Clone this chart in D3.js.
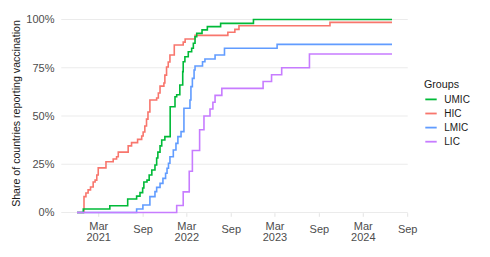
<!DOCTYPE html>
<html>
<head>
<meta charset="utf-8">
<script src="https://cdn.jsdelivr.net/npm/d3@7"></script>
<style>
	body { margin: 0; background: #fff; }
	svg { display: block; font-family: "Liberation Sans", Arial, sans-serif; }
	.grid line { stroke: #ebebeb; stroke-width: 1; }
	.tick-mark { stroke: #e3e3e3; stroke-width: 1; }
	.axis-label { fill: #4d4d4d; font-size: 11px; }
	.axis-title { fill: #1a1a1a; font-size: 10.6px; }
	.legend-title { fill: #1a1a1a; font-size: 10.7px; }
	.legend-label { fill: #1a1a1a; font-size: 10px; }
</style>
</head>
<body>
<svg id="viz-vax" width="490" height="257"></svg>
<script>

// Groups, in legend order, and their colours.
var groups = [ 'UMIC', 'HIC', 'LMIC', 'LIC' ];
var groupColors = [ '#00BA38', '#F8766D', '#619CFF', '#C77CFF' ];

// Cumulative share (%) of countries reporting vaccination, as [date, share] steps.
var umicSteps = [
	[ '2020-12-01', 0 ], [ '2020-12-27', 1.8 ], [ '2021-04-16', 3.5 ], [ '2021-06-29', 7.0 ],
	[ '2021-08-05', 8.5 ], [ '2021-08-19', 10.3 ], [ '2021-08-30', 12.7 ], [ '2021-09-04', 15.8 ],
	[ '2021-09-17', 16.8 ], [ '2021-09-26', 19.4 ], [ '2021-10-07', 22.0 ], [ '2021-10-20', 24.6 ],
	[ '2021-10-27', 28.2 ], [ '2021-11-01', 31.3 ], [ '2021-11-10', 34.5 ], [ '2021-11-17', 37.6 ],
	[ '2021-11-30', 39.3 ], [ '2021-12-22', 54.8 ], [ '2022-01-11', 60.0 ], [ '2022-01-18', 61.0 ],
	[ '2022-01-31', 66.1 ], [ '2022-02-12', 73.0 ], [ '2022-02-14', 78.1 ], [ '2022-02-21', 80.7 ],
	[ '2022-03-07', 83.3 ], [ '2022-03-21', 85.1 ], [ '2022-03-28', 87.7 ], [ '2022-04-04', 91.1 ],
	[ '2022-04-11', 92.8 ], [ '2022-05-03', 94.6 ], [ '2022-05-25', 96.3 ], [ '2022-07-19', 98.0 ],
	[ '2022-12-02', 100 ], [ '2024-06-28', 100 ]
];

var hicSteps = [
	[ '2020-12-01', 0 ], [ '2020-12-30', 8.2 ], [ '2021-01-07', 10.1 ], [ '2021-01-16', 11.7 ],
	[ '2021-01-26', 13.2 ], [ '2021-02-06', 15.8 ], [ '2021-02-14', 16.8 ], [ '2021-02-21', 19.4 ],
	[ '2021-02-27', 23.1 ], [ '2021-03-31', 26.3 ], [ '2021-04-30', 27.7 ], [ '2021-05-14', 28.9 ],
	[ '2021-05-21', 31.3 ], [ '2021-07-01', 34.5 ], [ '2021-07-15', 36.2 ], [ '2021-08-09', 37.9 ],
	[ '2021-08-26', 39.6 ], [ '2021-09-01', 41.7 ], [ '2021-09-08', 44.8 ], [ '2021-09-15', 48.4 ],
	[ '2021-09-21', 52.1 ], [ '2021-09-29', 58.3 ], [ '2021-10-27', 59.3 ], [ '2021-11-03', 61.9 ],
	[ '2021-11-10', 65.5 ], [ '2021-11-26', 67.1 ], [ '2021-11-30', 71.2 ], [ '2021-12-07', 75.4 ],
	[ '2021-12-14', 78.0 ], [ '2021-12-21', 81.6 ], [ '2022-01-08', 86.8 ], [ '2022-02-14', 88.3 ],
	[ '2022-02-22', 89.9 ], [ '2022-04-04', 91.8 ], [ '2022-08-18', 93.4 ], [ '2022-09-16', 94.9 ],
	[ '2022-10-03', 96.8 ], [ '2023-10-15', 98.5 ], [ '2024-06-28', 98.5 ]
];

var lmicSteps = [
	[ '2020-12-01', 0 ], [ '2021-08-05', 1.8 ], [ '2021-08-31', 3.9 ], [ '2021-09-29', 8.2 ],
	[ '2021-10-20', 10.8 ], [ '2021-10-27', 13.0 ], [ '2021-11-10', 15.1 ], [ '2021-11-22', 17.7 ],
	[ '2021-12-03', 20.3 ], [ '2021-12-09', 22.9 ], [ '2021-12-15', 25.5 ], [ '2021-12-21', 28.9 ],
	[ '2022-01-04', 32.4 ], [ '2022-01-15', 35.8 ], [ '2022-01-23', 39.3 ], [ '2022-02-05', 41.9 ],
	[ '2022-02-17', 54.0 ], [ '2022-03-14', 58.3 ], [ '2022-03-18', 65.2 ], [ '2022-03-24', 69.5 ],
	[ '2022-03-31', 73.8 ], [ '2022-04-04', 75.9 ], [ '2022-05-05', 78.1 ], [ '2022-05-15', 79.5 ],
	[ '2022-06-26', 81.6 ], [ '2022-08-04', 85.1 ], [ '2023-03-10', 87.1 ], [ '2024-06-28', 87.1 ]
];

var licSteps = [
	[ '2020-12-01', 0 ], [ '2022-01-18', 3.6 ], [ '2022-02-14', 10.7 ], [ '2022-03-11', 21.4 ],
	[ '2022-03-24', 32.1 ], [ '2022-04-23', 42.9 ], [ '2022-05-11', 50.0 ], [ '2022-06-05', 53.6 ],
	[ '2022-06-17', 57.1 ], [ '2022-06-26', 60.7 ], [ '2022-07-24', 64.3 ], [ '2023-01-11', 67.9 ],
	[ '2023-02-15', 71.4 ], [ '2023-03-29', 75.0 ], [ '2023-07-22', 82.1 ], [ '2024-06-28', 82.1 ]
];

// Axis ticks.
var yTicks = [ 0, 25, 50, 75, 100 ];
var xTickDates = [ '2021-03-01', '2021-09-01', '2022-03-01', '2022-09-01', '2023-03-01', '2023-09-01', '2024-03-01', '2024-09-01' ];
var xTickLabels = [ [ 'Mar', '2021' ], [ 'Sep' ], [ 'Mar', '2022' ], [ 'Sep' ], [ 'Mar', '2023' ], [ 'Sep' ], [ 'Mar', '2024' ], [ 'Sep' ] ];


window.vaxViz = {

	/**
	 * @private
	 * Panel edges, in pixels.
	 */
	_panel: {
		left: 61.25,
		right: 407.75,
		top: 19.5,
		bottom: 212.5
	},

	_parse: d3.timeParse( '%Y-%m-%d' ),

	/**
	 * @private
	 * Build the scales. The x domain gets ggplot's 5% padding on each side.
	 */
	_setScales: function () {

		var allDates = [].concat( umicSteps, hicSteps, lmicSteps, licSteps ).map( function ( d ) {
			return this._parse( d[0] );
		}.bind( this ) );

		var extent = d3.extent( allDates );
		var pad = ( extent[1] - extent[0] ) * 0.05;

		this._x = d3.scaleTime()
			.domain( [ new Date( +extent[0] - pad ), new Date( +extent[1] + pad ) ] )
			.range( [ this._panel.left, this._panel.right ] );

		this._y = d3.scaleLinear()
			.domain( [ 0, 100 ] )
			.range( [ this._panel.bottom, this._panel.top ] );

	},

	/**
	 * @private
	 * Horizontal gridlines, y labels and the axis title.
	 */
	_drawYAxis: function () {

		var y = this._y;

		var grid = this._svg.append( 'g' ).classed( 'grid', true );

		grid.selectAll( 'line' )
			.data( yTicks )
			.enter()
			.append( 'line' )
			.attr( 'x1', this._panel.left )
			.attr( 'x2', this._panel.right )
			.attr( 'y1', function ( d ) { return y( d ); } )
			.attr( 'y2', function ( d ) { return y( d ); } );

		this._svg.append( 'g' ).selectAll( 'text' )
			.data( yTicks )
			.enter()
			.append( 'text' )
			.classed( 'axis-label', true )
			.attr( 'x', 54.5 )
			.attr( 'y', function ( d ) { return y( d ) + 3.9; } )
			.attr( 'text-anchor', 'end' )
			.text( function ( d ) { return d + '%'; } );

		this._svg.append( 'text' )
			.classed( 'axis-title', true )
			.attr( 'transform', 'translate(20.3,113.5) rotate(-90)' )
			.attr( 'text-anchor', 'middle' )
			.text( 'Share of countries reporting vaccination' );

	},

	/**
	 * @private
	 * Tick marks and two-line date labels under the panel.
	 */
	_drawXAxis: function () {

		var x = this._x;
		var parse = this._parse;

		var ticks = this._svg.append( 'g' ).selectAll( 'g' )
			.data( xTickDates )
			.enter()
			.append( 'g' )
			.attr( 'transform', function ( d ) {
				return 'translate(' + x( parse( d ) ) + ',0)';
			} );

		ticks.append( 'line' )
			.classed( 'tick-mark', true )
			.attr( 'y1', 213.2 )
			.attr( 'y2', 216.8 );

		ticks.each( function ( d, i ) {
			var lines = xTickLabels[i];
			var g = d3.select( this );
			// Single-line labels sit between the two lines of the others.
			var first = lines.length === 2 ? 229.6 : 233.2;
			lines.forEach( function ( line, j ) {
				g.append( 'text' )
					.classed( 'axis-label', true )
					.attr( 'y', first + j * 11.4 )
					.attr( 'text-anchor', 'middle' )
					.text( line );
			} );
		} );

	},

	/**
	 * @private
	 * Step lines, LIC drawn last so it sits on top at zero.
	 */
	_drawLines: function () {

		var x = this._x;
		var y = this._y;
		var parse = this._parse;

		var series = [
			{ group: 'HIC', steps: hicSteps },
			{ group: 'UMIC', steps: umicSteps },
			{ group: 'LMIC', steps: lmicSteps },
			{ group: 'LIC', steps: licSteps }
		];

		var line = d3.line()
			.curve( d3.curveStepAfter )
			.x( function ( d ) { return x( parse( d[0] ) ); } )
			.y( function ( d ) { return y( d[1] ); } );

		this._svg.append( 'g' ).selectAll( 'path' )
			.data( series )
			.enter()
			.append( 'path' )
			.attr( 'fill', 'none' )
			.attr( 'stroke-width', 1.6 )
			.attr( 'stroke', function ( d ) { return groupColors[ groups.indexOf( d.group ) ]; } )
			.attr( 'd', function ( d ) { return line( d.steps ); } );

	},

	/**
	 * @private
	 */
	_drawLegend: function () {

		var legend = this._svg.append( 'g' ).attr( 'transform', 'translate(424,0)' );

		legend.append( 'text' )
			.classed( 'legend-title', true )
			.attr( 'x', 0 )
			.attr( 'y', 87.6 )
			.text( 'Groups' );

		var items = legend.selectAll( 'g.key' )
			.data( groups )
			.enter()
			.append( 'g' )
			.classed( 'key', true )
			.attr( 'transform', function ( d, i ) {
				return 'translate(0,' + ( 99.4 + i * 14.1 ) + ')';
			} );

		items.append( 'line' )
			.attr( 'x1', 1.3 )
			.attr( 'x2', 12.7 )
			.attr( 'stroke-width', 1.8 )
			.attr( 'stroke', function ( d, i ) { return groupColors[i]; } );

		items.append( 'text' )
			.classed( 'legend-label', true )
			.attr( 'x', 20.3 )
			.attr( 'y', 3.6 )
			.text( function ( d ) { return d; } );

	},

	on: function () {
		this._svg = d3.select( '#viz-vax' );
		this._setScales();
		this._drawYAxis();
		this._drawXAxis();
		this._drawLines();
		this._drawLegend();
	}

};

window.vaxViz.on();
</script>
</body>
</html>
